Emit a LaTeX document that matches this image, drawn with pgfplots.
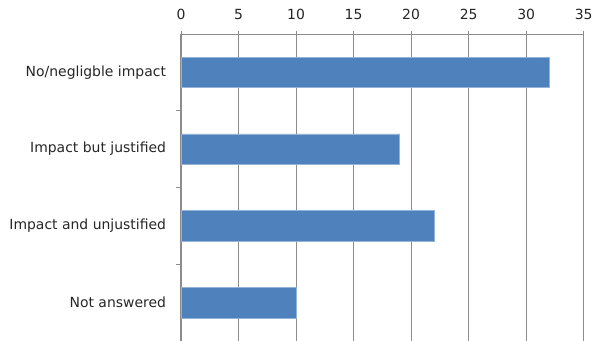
\documentclass[border=0pt]{standalone}
\usepackage{fontspec}
\setmainfont{DejaVu Sans}
\usepackage{pgfplots}
\pgfplotsset{compat=1.18}
\definecolor{barblue}{RGB}{79,129,189}
\definecolor{baredge}{RGB}{149,179,215}
\definecolor{axgray}{RGB}{140,140,140}
\begin{document}
\begin{tikzpicture}
\useasboundingbox (0,0) rectangle (592bp,-341bp);
\begin{axis}[
  at={(181bp,-34bp)}, anchor=north west,
  scale only axis, width=402.7bp, height=307bp,
  xbar, bar width=30.6bp,
  xmin=0, xmax=35, ymin=0.5, ymax=4.5, y dir=reverse,
  axis x line=top, axis y line=left,
  axis line style={-, draw=axgray, line width=1pt},
  xtick={0,5,...,35},
  ytick={1,2,3,4},
  yticklabels={No/negligble impact, Impact but justified, Impact and unjustified, Not answered},
  minor ytick={1.5,2.5,3.5},
  tick align=outside,
  major tick length=3.5bp,
  minor tick length=5bp,
  major x tick style={draw=axgray, line width=1pt},
  major y tick style={draw=none},
  minor y tick style={draw=axgray, line width=1pt},
  xmajorgrids,
  major grid style={draw=axgray, line width=1.1pt},
  ticklabel style={font=\fontsize{14}{16}\selectfont, text=black!85},
  xticklabel style={yshift=7bp},
  yticklabel style={xshift=-8bp},
  /pgf/number format/assume math mode=true,
]
\addplot[xbar, fill=barblue, draw=baredge, line width=0.6pt] coordinates {(32,1) (19,2) (22,3) (10,4)};
\end{axis}
\end{tikzpicture}
\end{document}
